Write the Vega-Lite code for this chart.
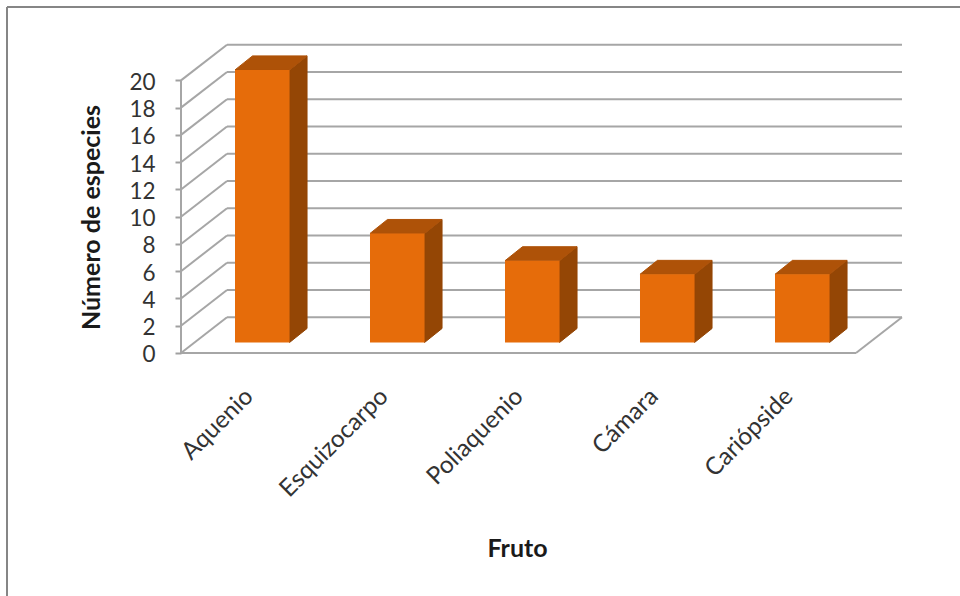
{
  "$schema": "https://vega.github.io/schema/vega-lite/v6.json",
  "width": 953,
  "height": 589,
  "padding": {"left": 7, "top": 7, "right": 0, "bottom": 0},
  "autosize": "none",
  "background": "white",
  "config": {"view": {"stroke": null}, "font": "Lato"},
  "datasets": {
    "frutos": [
      {"fruto": "Aquenio", "especies": 20},
      {"fruto": "Esquizocarpo", "especies": 8},
      {"fruto": "Poliaquenio", "especies": 6},
      {"fruto": "Cámara", "especies": 5},
      {"fruto": "Cariópside", "especies": 5}
    ],
    "marcas": [
      {"v": 0}, {"v": 2}, {"v": 4}, {"v": 6}, {"v": 8}, {"v": 10},
      {"v": 12}, {"v": 14}, {"v": 16}, {"v": 18}, {"v": 20}
    ],
    "unico": [{"uno": 1}]
  },
  "data": {"name": "frutos"},
  "transform": [
    {"window": [{"op": "row_number", "as": "i"}]},
    {"calculate": "datum.i - 1 + 0.4", "as": "izq"},
    {"calculate": "datum.izq + 0.404", "as": "der"},
    {"calculate": "datum.especies + 0.77", "as": "techo"},
    {"calculate": "0.77", "as": "base"},
    {"calculate": "datum.i - 0.5", "as": "centro"}
  ],
  "layer": [
    {
      "data": {"name": "unico"},
      "mark": {"type": "rule", "color": "#868686", "strokeWidth": 2},
      "encoding": {
        "x": {"datum": -1.2889, "type": "quantitative", "scale": {"domain": [-1.2889, 5.7704], "nice": false, "zero": false},
          "axis": {"title": "Fruto", "labels": false, "ticks": false, "domain": false, "grid": false, "titleFont": "Lato", "titleFontSize": 25, "titleFontWeight": "bold", "titleColor": "#1a1a1a", "titleX": 510, "titleY": -48, "titleAlign": "center", "titleBaseline": "middle"}},
        "y": {"datum": -17.83, "type": "quantitative", "scale": {"domain": [-17.83, 25.385], "nice": false, "zero": false},
          "axis": {"title": "Número de especies", "values": [0, 2, 4, 6, 8, 10, 12, 14, 16, 18, 20], "offset": -174, "domain": false, "grid": false, "tickColor": "#a0a0a0", "tickSize": 6, "tickWidth": 2, "labelFont": "Lato", "labelFontSize": 22.5, "labelColor": "#333333", "labelPadding": 20, "labelOffset": 2, "titleFont": "Lato", "titleFontSize": 25, "titleFontWeight": "bold", "titleColor": "#1a1a1a", "titlePadding": 24, "titleAnchor": "middle", "titleY": 210}},
        "y2": {"datum": 25.385}
      }
    },
    {
      "data": {"name": "unico"},
      "mark": {"type": "rule", "color": "#868686", "strokeWidth": 2},
      "encoding": {
        "y": {"datum": 25.385, "type": "quantitative", "scale": {"domain": [-17.83, 25.385], "nice": false, "zero": false}},
        "x": {"datum": -1.2889, "type": "quantitative", "scale": {"domain": [-1.2889, 5.7704], "nice": false, "zero": false}},
        "x2": {"datum": 5.7704}
      }
    },
    {
      "data": {"name": "marcas"},
      "transform": [{"calculate": "datum.v + 2.62", "as": "fondo"}],
      "mark": {"type": "rule", "color": "#a6a6a6", "strokeWidth": 2},
      "encoding": {
        "x": {"datum": 0, "type": "quantitative", "scale": {"domain": [-1.2889, 5.7704], "nice": false, "zero": false}},
        "x2": {"datum": 0.3407},
        "y": {"field": "v", "type": "quantitative", "scale": {"domain": [-17.83, 25.385], "nice": false, "zero": false}},
        "y2": {"field": "fondo"}
      }
    },
    {
      "data": {"name": "marcas"},
      "transform": [{"calculate": "datum.v + 2.62", "as": "fondo"}],
      "mark": {"type": "rule", "color": "#a6a6a6", "strokeWidth": 2},
      "encoding": {
        "x": {"datum": 0.3407, "type": "quantitative", "scale": {"domain": [-1.2889, 5.7704], "nice": false, "zero": false}},
        "x2": {"datum": 5.3407},
        "y": {"field": "fondo", "type": "quantitative", "scale": {"domain": [-17.83, 25.385], "nice": false, "zero": false}}
      }
    },
    {
      "data": {"name": "unico"},
      "mark": {"type": "rule", "color": "#a6a6a6", "strokeWidth": 2},
      "encoding": {
        "x": {"datum": 0, "type": "quantitative", "scale": {"domain": [-1.2889, 5.7704], "nice": false, "zero": false}},
        "y": {"datum": 0, "type": "quantitative", "scale": {"domain": [-17.83, 25.385], "nice": false, "zero": false}},
        "y2": {"datum": 20}
      }
    },
    {
      "data": {"name": "unico"},
      "mark": {"type": "rule", "color": "#a6a6a6", "strokeWidth": 2},
      "encoding": {
        "x": {"datum": 0, "type": "quantitative", "scale": {"domain": [-1.2889, 5.7704], "nice": false, "zero": false}},
        "x2": {"datum": 5},
        "y": {"datum": 0, "type": "quantitative", "scale": {"domain": [-17.83, 25.385], "nice": false, "zero": false}}
      }
    },
    {
      "data": {"name": "unico"},
      "mark": {"type": "rule", "color": "#a6a6a6", "strokeWidth": 2},
      "encoding": {
        "x": {"datum": 5, "type": "quantitative", "scale": {"domain": [-1.2889, 5.7704], "nice": false, "zero": false}},
        "x2": {"datum": 5.3407},
        "y": {"datum": 0, "type": "quantitative", "scale": {"domain": [-17.83, 25.385], "nice": false, "zero": false}},
        "y2": {"datum": 2.62}
      }
    },
    {
      "transform": [
        {"calculate": "[0, 1]", "as": "t"},
        {"flatten": ["t"]},
        {"calculate": "datum.der + datum.t * 0.1296", "as": "lado_x"},
        {"calculate": "datum.techo + datum.t * 1.027", "as": "lado_arriba"},
        {"calculate": "datum.base + datum.t * 1.027", "as": "lado_abajo"}
      ],
      "mark": {"type": "area", "color": "#944605", "stroke": "#944605", "strokeWidth": 1, "orient": "vertical"},
      "encoding": {
        "detail": {"field": "fruto"},
        "x": {"field": "lado_x", "type": "quantitative", "scale": {"domain": [-1.2889, 5.7704], "nice": false, "zero": false}},
        "y": {"field": "lado_arriba", "type": "quantitative", "scale": {"domain": [-17.83, 25.385], "nice": false, "zero": false}},
        "y2": {"field": "lado_abajo"}
      }
    },
    {
      "transform": [
        {"calculate": "[0, 1]", "as": "t"},
        {"flatten": ["t"]},
        {"calculate": "datum.izq + datum.t * 0.1296", "as": "tapa_izq"},
        {"calculate": "datum.der + datum.t * 0.1296", "as": "tapa_der"},
        {"calculate": "datum.techo + datum.t * 1.027", "as": "tapa_y"}
      ],
      "mark": {"type": "area", "color": "#ae5208", "stroke": "#ae5208", "strokeWidth": 1, "orient": "horizontal"},
      "encoding": {
        "detail": {"field": "fruto"},
        "y": {"field": "tapa_y", "type": "quantitative", "scale": {"domain": [-17.83, 25.385], "nice": false, "zero": false}},
        "x": {"field": "tapa_izq", "type": "quantitative", "scale": {"domain": [-1.2889, 5.7704], "nice": false, "zero": false}},
        "x2": {"field": "tapa_der"}
      }
    },
    {
      "mark": {"type": "rect", "color": "#e66c0a"},
      "encoding": {
        "x": {"field": "izq", "type": "quantitative", "scale": {"domain": [-1.2889, 5.7704], "nice": false, "zero": false}},
        "x2": {"field": "der"},
        "y": {"field": "techo", "type": "quantitative", "scale": {"domain": [-17.83, 25.385], "nice": false, "zero": false}},
        "y2": {"field": "base"}
      }
    },
    {
      "mark": {"type": "text", "angle": 315, "align": "right", "baseline": "middle", "font": "Lato", "fontSize": 24.3, "color": "#333333", "xOffset": 1, "yOffset": 40},
      "encoding": {
        "x": {"field": "centro", "type": "quantitative", "scale": {"domain": [-1.2889, 5.7704], "nice": false, "zero": false}},
        "y": {"datum": 0, "type": "quantitative", "scale": {"domain": [-17.83, 25.385], "nice": false, "zero": false}},
        "text": {"field": "fruto"}
      }
    }
  ]
}
